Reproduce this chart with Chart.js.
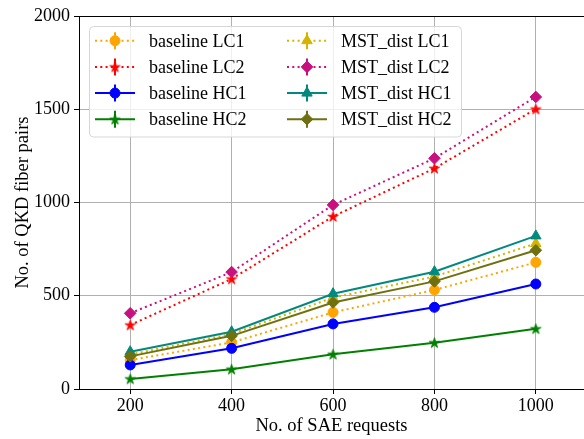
<!DOCTYPE html>
<html><head><meta charset="utf-8">
<script src="https://cdn.jsdelivr.net/npm/chart.js@4/dist/chart.umd.min.js"></script>
<style>html,body{margin:0;padding:0;background:#fff}#wrap{width:584px;height:439px}</style>
</head><body><div id="wrap"><canvas id="c" width="584" height="439"></canvas></div>
<script>
const sae = [200, 400, 600, 800, 1000];
const baselineLC1 = [155, 250, 411, 531, 679];
const baselineLC2 = [343, 590, 925, 1183, 1501];
const baselineHC1 = [129, 218, 349, 438, 563];
const baselineHC2 = [54, 106, 186, 248, 323];
const mstLC1 = [185, 295, 490, 603, 780];
const mstLC2 = [406, 627, 987, 1237, 1566];
const mstHC1 = [200, 307, 511, 629, 821];
const mstHC2 = [175, 285, 464, 577, 744];
const yTicks = [0, 500, 1000, 1500, 2000];
const seriesNames = ['baseline LC1', 'baseline LC2', 'baseline HC1', 'baseline HC2',
                     'MST_dist LC1', 'MST_dist LC2', 'MST_dist HC1', 'MST_dist HC2'];
const seriesValues = [baselineLC1, baselineLC2, baselineHC1, baselineHC2, mstLC1, mstLC2, mstHC1, mstHC2];
const seriesColors = ['#ffa500', '#ff0000', '#0000ff', '#008000', '#d4b400', '#c8107f', '#00897f', '#6f7010'];
const seriesDotted = [true, true, false, false, true, true, false, false];
const seriesMarker = ['circle', 'star', 'circle', 'star', 'triangle', 'rectRot', 'triangle', 'rectRot'];

const FONT = '"Liberation Serif", "Times New Roman", serif';

function starImg(color, R) {
  const s = Math.ceil(2 * R + 2);
  const c = document.createElement('canvas');
  c.width = s; c.height = s;
  const g = c.getContext('2d');
  const cx = s / 2, cy = s / 2 + 0.4, r = R * 0.382;
  g.beginPath();
  for (let i = 0; i < 10; i++) {
    const a = -Math.PI / 2 + i * Math.PI / 5;
    const rr = i % 2 === 0 ? R : r;
    const px = cx + rr * Math.cos(a), py = cy + rr * Math.sin(a);
    if (i === 0) g.moveTo(px, py); else g.lineTo(px, py);
  }
  g.closePath();
  g.fillStyle = color; g.fill();
  g.strokeStyle = color; g.lineWidth = 0.8; g.stroke();
  return c;
}

function markerStyle(i) {
  const m = seriesMarker[i];
  if (m === 'star') return { style: starImg(seriesColors[i], 5.5), radius: 5 };
  if (m === 'circle') return { style: 'circle', radius: 5 };
  if (m === 'triangle') return { style: 'triangle', radius: 6 };
  return { style: 'rectRot', radius: 5.8 };
}

const datasets = seriesNames.map((name, i) => {
  const mk = markerStyle(i);
  return {
    label: name,
    data: sae.map((x, j) => ({ x: x, y: seriesValues[i][j] })),
    borderColor: seriesColors[i],
    backgroundColor: seriesColors[i],
    pointBackgroundColor: seriesColors[i],
    pointBorderColor: seriesColors[i],
    borderWidth: 2,
    borderDash: seriesDotted[i] ? [2, 3.3] : [],
    pointStyle: mk.style,
    pointRadius: mk.radius,
    pointBorderWidth: 1,
    tension: 0,
    fill: false,
    order: seriesNames.length - i
  };
});

const legendPlugin = {
  id: 'mplLegend',
  afterDraw(chart) {
    const ctx = chart.ctx;
    ctx.save();
    const bx = 89.5, by = 26.5, bw = 372, bh = 110.5, rad = 4;
    ctx.beginPath();
    ctx.roundRect(bx, by, bw, bh, rad);
    ctx.fillStyle = 'rgba(255,255,255,0.8)';
    ctx.fill();
    ctx.strokeStyle = '#d6d6d6';
    ctx.lineWidth = 1;
    ctx.stroke();
    const colX = [95, 287];
    const textX = [149, 341];
    const rowY0 = 40.7, rowDy = 26.2;
    seriesNames.forEach((name, i) => {
      const col = Math.floor(i / 4), row = i % 4;
      const y = rowY0 + row * rowDy;
      const x0 = colX[col], x1 = x0 + 40, xm = (x0 + x1) / 2;
      const color = seriesColors[i];
      ctx.strokeStyle = color;
      ctx.lineWidth = 2;
      ctx.setLineDash(seriesDotted[i] ? [2, 3.3] : []);
      ctx.beginPath(); ctx.moveTo(x0, y); ctx.lineTo(x1, y); ctx.stroke();
      ctx.setLineDash([]);
      ctx.beginPath(); ctx.moveTo(xm, y - 8.5); ctx.lineTo(xm, y + 8.5); ctx.stroke();
      const mk = markerStyle(i);
      ctx.fillStyle = color; ctx.strokeStyle = color; ctx.lineWidth = 1;
      Chart.helpers.drawPoint(ctx, { pointStyle: mk.style, radius: mk.radius, rotation: 0, borderWidth: 1 }, xm, y);
      ctx.fillStyle = '#000';
      ctx.font = '18px ' + FONT;
      ctx.textBaseline = 'alphabetic';
      ctx.textAlign = 'left';
      ctx.fillText(name, textX[col], y + 6);
    });
    ctx.restore();
  }
};

Chart.defaults.color = '#000';
Chart.defaults.font.family = FONT;

new Chart(document.getElementById('c'), {
  type: 'line',
  data: { datasets: datasets },
  options: {
    responsive: false,
    animation: false,
    devicePixelRatio: 1,
    layout: { autoPadding: false, padding: { top: 16, right: 0, left: 0, bottom: 0 } },
    plugins: { legend: { display: false }, tooltip: { enabled: false } },
    scales: {
      x: {
        type: 'linear',
        min: 99, max: 1095,
        afterBuildTicks: s => { s.ticks = sae.map(v => ({ value: v })); },
        afterFit: s => { s.height = 50; s.paddingLeft = 0; s.paddingRight = 0; },
        ticks: { font: { size: 18, family: FONT }, padding: 1, color: '#000', maxRotation: 0, callback: v => String(v) },
        grid: { color: '#b0b0b0', lineWidth: 1, tickLength: 5, tickColor: '#000', tickWidth: 1 },
        border: { color: '#000', width: 1 },
        title: { display: true, text: 'No. of SAE requests', font: { size: 18.5, family: FONT }, color: '#000', padding: { top: 0, bottom: 2 } }
      },
      y: {
        min: 0, max: 2000,
        afterBuildTicks: s => { s.ticks = yTicks.map(v => ({ value: v })); },
        afterFit: s => { s.width = 79; s.paddingTop = 0; s.paddingBottom = 0; },
        ticks: { font: { size: 18, family: FONT }, padding: 4, color: '#000', callback: v => String(v) },
        grid: {
          color: c => (c.tick && c.tick.value === 2000) ? '#000' : '#b0b0b0',
          lineWidth: 1, tickLength: 5, tickColor: '#000', tickWidth: 1
        },
        border: { color: '#000', width: 1 },
        title: { display: true, text: 'No. of QKD fiber pairs', font: { size: 18.5, family: FONT }, color: '#000', padding: { top: 12, bottom: 0 } }
      }
    }
  },
  plugins: [legendPlugin]
});
</script>
</body></html>
